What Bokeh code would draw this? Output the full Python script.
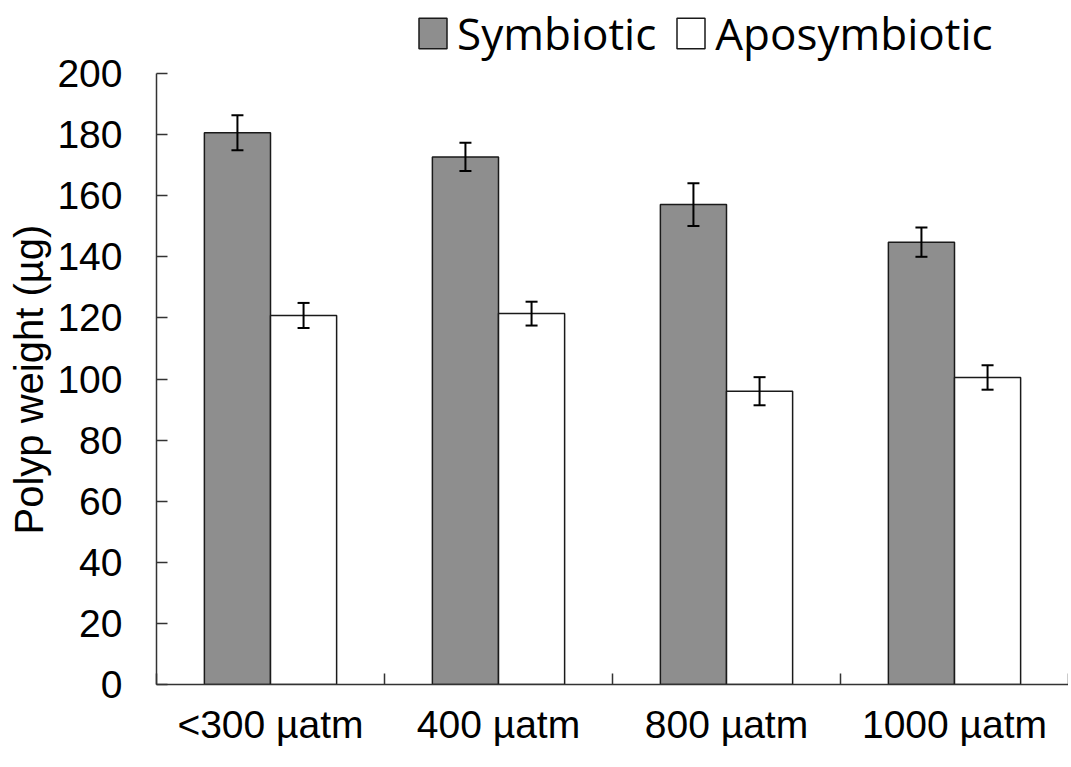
import numpy as np
from bokeh.plotting import figure
from bokeh.models import ColumnDataSource, Whisker, FixedTicker, Range1d, TeeHead, Title
from bokeh.embed import file_html
from bokeh.resources import INLINE

# ---- data ----
categories = ["<300 µatm", "400 µatm", "800 µatm", "1000 µatm"]
series_names = ["Symbiotic", "Aposymbiotic"]
symbiotic = [180.6, 172.7, 157.1, 144.8]
symbiotic_err = [5.7, 4.6, 7.0, 4.8]
aposymbiotic = [120.8, 121.4, 96.0, 100.5]
aposymbiotic_err = [4.1, 3.9, 4.6, 4.0]
y_ticks = [0, 20, 40, 60, 80, 100, 120, 140, 160, 180, 200]
y_label = "Polyp weight (µg)"

# ---- layout constants ----
BAR_W = 0.29
Y_MAX = 200
FRAME_H = 684          # pixels of the plotting frame
PX_TO_TOP = 73         # pixels between frame top and the value Y_MAX (room for legend)
y_end = Y_MAX * FRAME_H / (FRAME_H - PX_TO_TOP)

centers = np.arange(len(categories)) + 0.5
boundaries = list(range(len(categories) + 1))

p = figure(width=1068, height=FRAME_H + 66, output_backend="svg", toolbar_location=None,
           x_range=Range1d(0, len(categories)), y_range=Range1d(0, y_end),
           min_border_left=156, min_border_right=0, min_border_top=0, min_border_bottom=66)
p.outline_line_color = None
p.xgrid.visible = False
p.ygrid.visible = False
p.background_fill_color = "white"

sym_src = ColumnDataSource(dict(x=centers - BAR_W / 2, top=symbiotic,
                                upper=np.array(symbiotic) + np.array(symbiotic_err),
                                lower=np.array(symbiotic) - np.array(symbiotic_err)))
apo_src = ColumnDataSource(dict(x=centers + BAR_W / 2, top=aposymbiotic,
                                upper=np.array(aposymbiotic) + np.array(aposymbiotic_err),
                                lower=np.array(aposymbiotic) - np.array(aposymbiotic_err)))

p.vbar(x="x", top="top", width=BAR_W, bottom=0, source=sym_src, fill_color="#8e8e8e",
       line_color="#1a1a1a", line_width=1.5, legend_label=series_names[0])
p.vbar(x="x", top="top", width=BAR_W, bottom=0, source=apo_src, fill_color="white",
       line_color="#1a1a1a", line_width=1.5, legend_label=series_names[1])

for src in (sym_src, apo_src):
    w = Whisker(base="x", upper="upper", lower="lower", source=src, level="overlay",
                line_color="black", line_width=2,
                upper_head=TeeHead(size=12, line_width=2, line_color="black"),
                lower_head=TeeHead(size=12, line_width=2, line_color="black"))
    p.add_layout(w)

# ---- axes ----
xa = p.xaxis[0]
xa.ticker = FixedTicker(ticks=list(centers), minor_ticks=boundaries)
xa.major_label_overrides = {float(c): lab for c, lab in zip(centers, categories)}
xa.major_tick_line_color = None
xa.minor_tick_in = 11
xa.minor_tick_out = 0
xa.minor_tick_line_width = 1.5
xa.minor_tick_line_color = "#333333"
xa.axis_line_width = 1.5
xa.axis_line_color = "#333333"
xa.major_label_text_font = "Liberation Sans"
xa.major_label_text_font_size = "39px"
xa.major_label_text_color = "black"
xa.major_label_standoff = 12

ya = p.yaxis[0]
ya.bounds = (0, Y_MAX)
ya.ticker = FixedTicker(ticks=y_ticks)
ya.major_tick_in = 11
ya.major_tick_out = 0
ya.major_tick_line_width = 1.5
ya.major_tick_line_color = "#333333"
ya.minor_tick_line_color = None
ya.axis_line_width = 1.5
ya.axis_line_color = "#333333"
ya.major_label_text_font = "Liberation Sans"
ya.major_label_text_font_size = "39px"
ya.major_label_text_color = "black"
ya.major_label_standoff = 34

# y-axis title, placed along the 0..200 part of the axis
ytitle = Title(text=y_label, align="left", offset=150, standoff=7,
               text_font="Liberation Sans", text_font_size="40px",
               text_font_style="normal", text_color="black")
p.add_layout(ytitle, "left")

# ---- legend ----
lg = p.legend[0]
lg.orientation = "horizontal"
lg.location = (259, 621)
lg.border_line_color = None
lg.background_fill_alpha = 0
lg.padding = 0
lg.margin = 0
lg.spacing = 17
lg.glyph_width = 35
lg.glyph_height = 38
lg.label_standoff = 7
lg.label_text_font = "Open Sans"
lg.label_text_font_size = "44px"
lg.label_text_color = "black"

open("out.html", "w").write(file_html(p, INLINE))
